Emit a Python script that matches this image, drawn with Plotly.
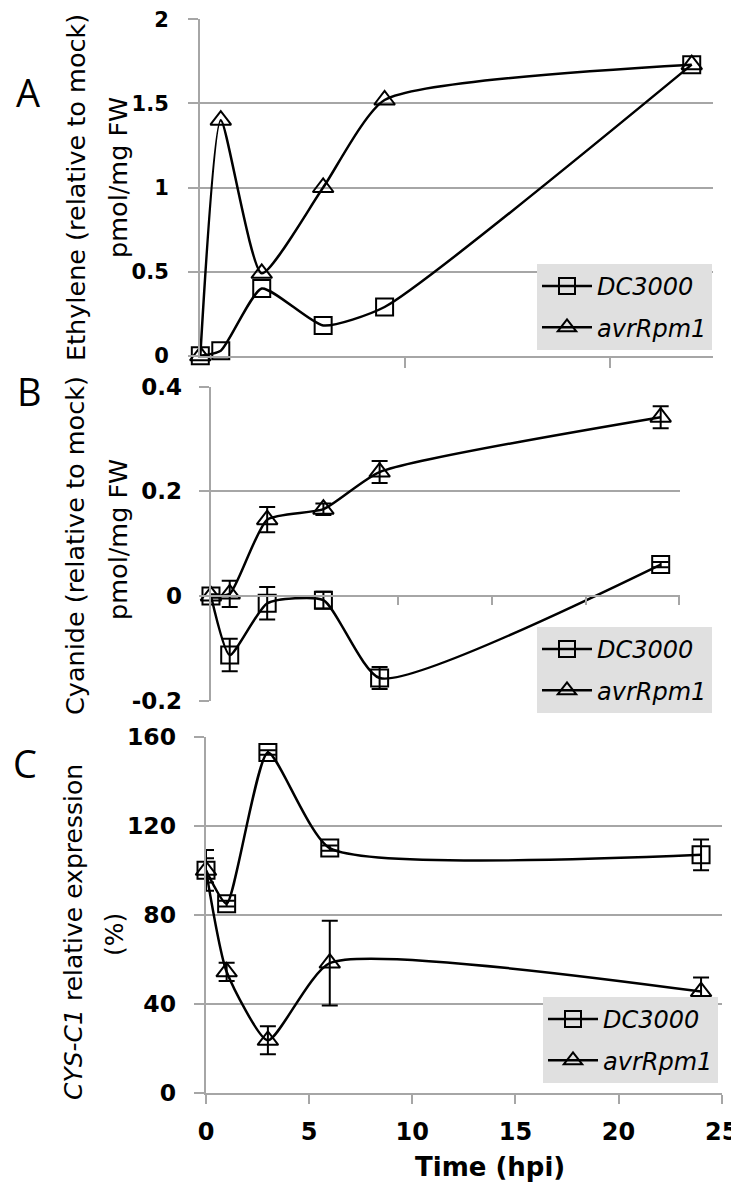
import plotly.graph_objects as go

# ---------------- data ----------------
time_A = [0, 1, 3, 6, 9, 24]
eth_dc3000 = [0.00, 0.03, 0.40, 0.18, 0.29, 1.73]
eth_avr = [0.00, 1.40, 0.49, 1.00, 1.52, 1.73]

time_B = [0, 1, 3, 6, 9, 24]
cy_dc3000 = [0.000, -0.113, -0.014, -0.008, -0.157, 0.060]
cy_dc3000_err = [0.003, 0.031, 0.031, 0.016, 0.021, 0.005]
cy_avr = [0.000, 0.004, 0.146, 0.166, 0.237, 0.342]
cy_avr_err = [0.003, 0.025, 0.024, 0.011, 0.021, 0.021]

time_C = [0, 1, 3, 6, 24]
cys_dc3000 = [100, 85, 153, 110, 107]
cys_dc3000_err = [5.5, 1.3, 1.0, 1.2, 6.9]
cys_avr = [100, 54.4, 23.6, 58.3, 45.5]
cys_avr_err = [9.2, 4.1, 6.3, 19.0, 6.3]

series_names = ["DC3000", "avrRpm1"]
ticks_A = [10, 20]
ticks_B = [10, 15, 20, 25]
ticks_C = [0, 5, 10, 15, 20, 25]
yvals_A = [0, 0.5, 1, 1.5, 2]
ytext_A = ["0", "0.5", "1", "1.5", "2"]
yvals_B = [-0.2, 0, 0.2, 0.4]
ytext_B = ["-0.2", "0", "0.2", "0.4"]
yvals_C = [0, 40, 80, 120, 160]
ytext_C = ["0", "40", "80", "120", "160"]

# ---------------- layout helpers ----------------
# the page places the figure 8 px in from the top-left corner
OFF = 8
W, H = 739 - OFF, 1188 - OFF
def px_x(p):
    return (p - OFF) / W
def px_y(p):
    return 1 - (p - OFF) / H

def rng(lo, hi):
    # tiny widening so that the end ticks are kept
    eps = (hi - lo) * 0.0006
    return [lo - eps, hi + eps]

GRID = "#a6a6a6"
TICKFONT = "DejaVu Sans"
TITLEFONT = "DejaVu Sans"
SMOOTH = 0.55

fig = go.Figure()

def add_pair(t, y1, y2, xa, ya, legend, e1=None, e2=None):
    for i, (yy, ee, sym, sz) in enumerate([(y1, e1, "square-open", 17), (y2, e2, "triangle-up-open", 18)]):
        tr = dict(
            x=t, y=yy, mode="lines+markers", name=series_names[i],
            xaxis=xa, yaxis=ya, legend=legend, legendgroup=legend + str(i),
            cliponaxis=False,
            line=dict(color="black", width=2.5, shape="spline", smoothing=SMOOTH),
            marker=dict(symbol=sym, size=sz, color="black", line=dict(width=2, color="black")),
        )
        if ee is not None:
            tr["error_y"] = dict(type="data", array=ee, visible=True, color="black", thickness=2, width=8)
        fig.add_trace(go.Scatter(**tr))

add_pair(time_A, eth_dc3000, eth_avr, "x", "y", "legend")
add_pair(time_B, cy_dc3000, cy_avr, "x2", "y2", "legend2", cy_dc3000_err, cy_avr_err)
add_pair(time_C, cys_dc3000, cys_avr, "x3", "y3", "legend3", cys_dc3000_err, cys_avr_err)

# domains (pixel estimates in reference coordinates)
dA_x = [px_x(200), px_x(712.5)]
dA_y = [px_y(356), px_y(19)]
dB_x = [px_x(210.7), px_x(679.7)]
dB_y = [px_y(700.7), px_y(386.7)]
dC_x = [px_x(205.7), px_x(722)]
dC_y = [px_y(1093), px_y(736.7)]

rB = rng(-0.2, 0.4)
posB = dB_y[0] + (dB_y[1] - dB_y[0]) * (0 - rB[0]) / (rB[1] - rB[0])

def yax(domain, r, vals, text, anchor, size, standoff):
    return dict(domain=domain, range=r, tickvals=vals, ticktext=text, anchor=anchor,
                automargin=False, ticklabeloverflow="allow",
                showline=True, linecolor=GRID, linewidth=2,
                showgrid=True, gridcolor=GRID, gridwidth=2, zeroline=False,
                ticks="outside", ticklen=10, tickcolor=GRID, tickwidth=2,
                ticklabelstandoff=standoff,
                tickfont=dict(family=TICKFONT, size=size, color="black", weight="bold"))

fig.update_layout(
    template="none",
    width=W, height=H, margin=dict(l=0, r=0, t=0, b=0, pad=0, autoexpand=False),
    paper_bgcolor="white", plot_bgcolor="white",
    xaxis=dict(domain=dA_x, range=rng(0, 25), anchor="y", automargin=False, showline=True,
               linecolor=GRID, linewidth=2,
               showgrid=False, zeroline=False, ticks="outside", tickvals=ticks_A, ticklen=10,
               tickcolor=GRID, tickwidth=2, showticklabels=False),
    yaxis=yax(dA_y, rng(0, 2), yvals_A, ytext_A, "x", 21, 15),
    xaxis2=dict(domain=dB_x, range=rng(0, 25), anchor="free", position=posB, automargin=False,
                showline=True,
                linecolor=GRID, linewidth=2, showgrid=False, zeroline=False, ticks="outside",
                tickvals=ticks_B, ticklen=8, tickcolor=GRID, tickwidth=2, showticklabels=False),
    yaxis2=yax(dB_y, rB, yvals_B, ytext_B, "x2", 23, 12),
    xaxis3=dict(domain=dC_x, range=rng(0, 25), anchor="y3", automargin=False, showline=True,
                linecolor=GRID, linewidth=2, ticklabeloverflow="allow",
                showgrid=False, zeroline=False, ticks="outside", tickvals=ticks_C, ticklen=9,
                tickcolor=GRID, tickwidth=2, ticklabelstandoff=7,
                tickfont=dict(family=TICKFONT, size=24, color="black", weight="bold")),
    yaxis3=yax(dC_y, rng(0, 160), yvals_C, ytext_C, "x3", 23.5, 13),
    showlegend=True,
)

leg_common = dict(bgcolor="#e0e0e0", borderwidth=0, xanchor="right", yanchor="top",
                  font=dict(family="DejaVu Sans", size=24, color="black", style="italic"),
                  tracegroupgap=7, itemwidth=50)
fig.update_layout(
    legend=dict(x=px_x(712), y=px_y(264), **leg_common),
    legend2=dict(x=px_x(712), y=px_y(627), **leg_common),
    legend3=dict(x=px_x(718), y=px_y(997), **leg_common),
)

ann = []
def rot(text, cx, cy, size=25.5):
    ann.append(dict(text=text, x=px_x(cx), y=px_y(cy), xref="paper", yref="paper",
                    xanchor="center", yanchor="middle", textangle=-90, showarrow=False,
                    font=dict(family=TITLEFONT, size=size, color="black")))
rot("Ethylene (relative to mock)", 76, 188)
rot("pmol/mg FW", 118, 178)
rot("Cyanide (relative to mock)", 75, 546)
rot("pmol/mg FW", 118, 540)
rot("<i>CYS-C1</i> relative expression", 73, 932, 25)
rot("(%)", 114, 935, 25)

for lab, cx, cy in [("A", 28, 92), ("B", 29, 391), ("C", 25, 763)]:
    ann.append(dict(text=lab, x=px_x(cx), y=px_y(cy), xref="paper", yref="paper",
                    xanchor="center", yanchor="middle", showarrow=False,
                    font=dict(family="Open Sans", size=38, color="black")))

ann.append(dict(text="Time (hpi)", x=px_x(490), y=px_y(1167), xref="paper", yref="paper",
                xanchor="center", yanchor="middle", showarrow=False,
                font=dict(family=TICKFONT, size=26, color="black", weight="bold")))
fig.update_layout(annotations=ann)

fig.write_html("out.html")
